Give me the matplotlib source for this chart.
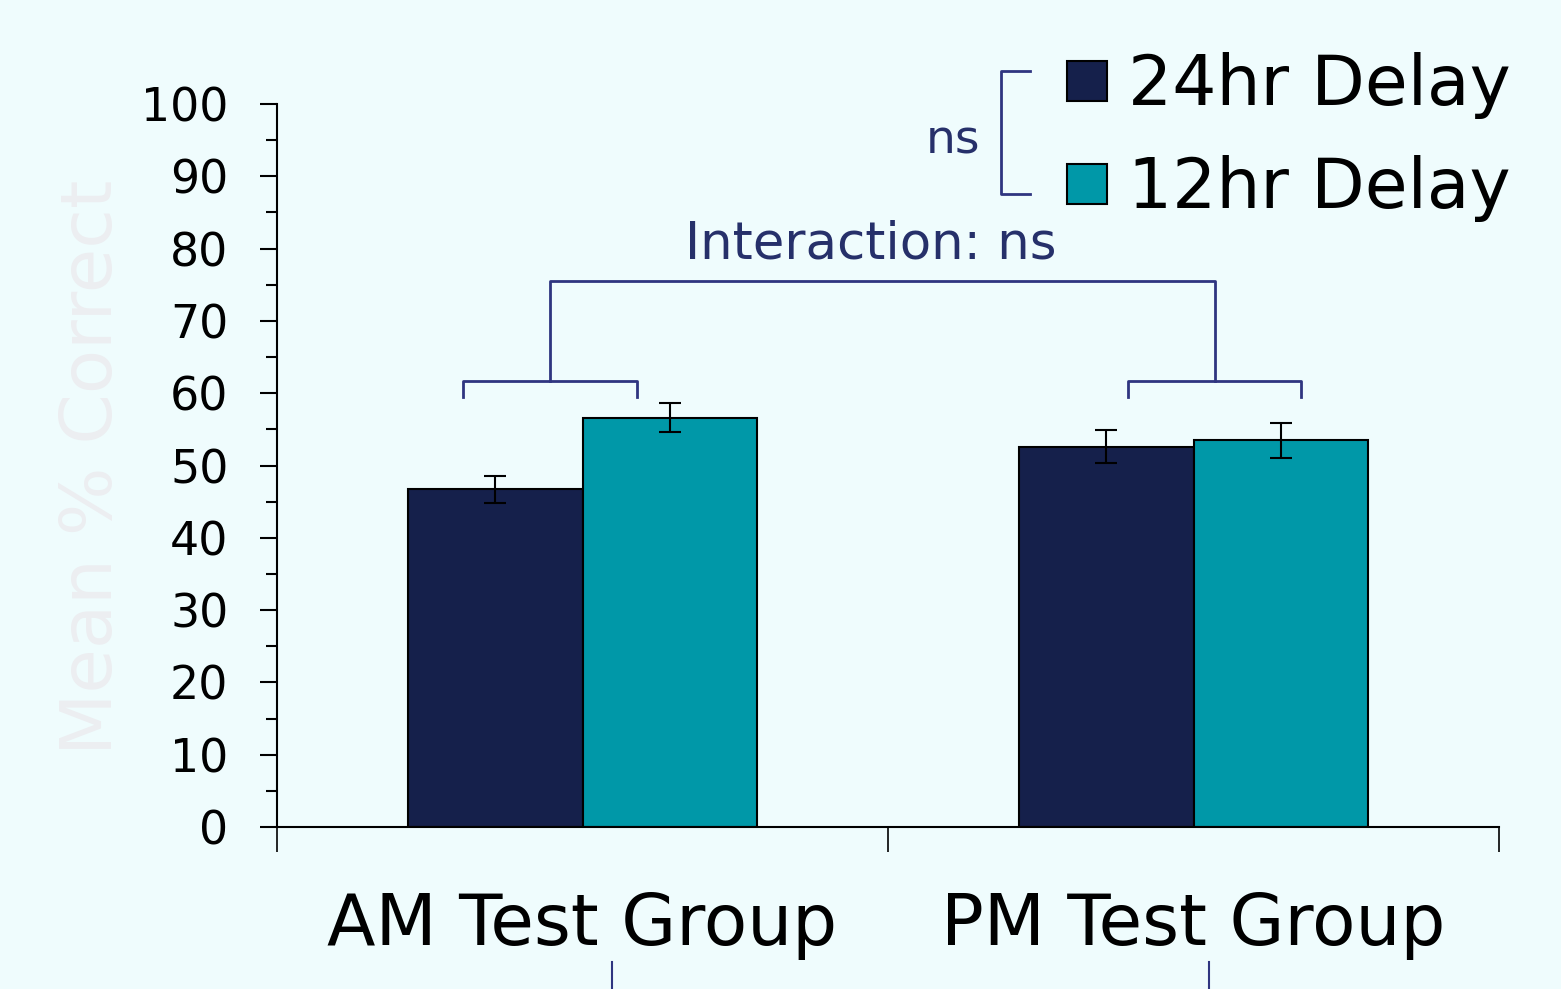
import numpy as np
import matplotlib
matplotlib.use("Agg")
import matplotlib.pyplot as plt
from matplotlib.patches import Rectangle

# Данные
groups = ['AM Test Group', 'PM Test Group']
series = ['24hr Delay', '12hr Delay']
delay_24 = [46.7, 52.6]
delay_12 = [56.6, 53.5]
err_24 = [1.9, 2.3]
err_12 = [2.0, 2.4]

bg = '#effcfd'
navy = '#15204b'
teal = '#0098a8'
ann = '#2f3580'

W, H = 1561, 989
fig = plt.figure(figsize=(W / 100, H / 100), dpi=100)
fig.patch.set_facecolor(bg)
ax = fig.add_axes([277 / W, 162 / H, 1222 / W, 723 / H])
ax.set_facecolor(bg)

x = np.arange(len(groups))
width = 0.285

# Столбцы и погрешности
ax.bar(x - width / 2, delay_24, width, color=navy, edgecolor='black', linewidth=1.5, zorder=2)
ax.bar(x + width / 2, delay_12, width, color=teal, edgecolor='black', linewidth=1.5, zorder=2)
ax.errorbar(x - width / 2, delay_24, yerr=err_24, fmt='none', ecolor='black',
            elinewidth=1.5, capsize=8, capthick=1.5, zorder=3)
ax.errorbar(x + width / 2, delay_12, yerr=err_12, fmt='none', ecolor='black',
            elinewidth=1.5, capsize=8, capthick=1.5, zorder=3)

# Оси
ax.set_xlim(-0.5, 1.5)
ax.set_ylim(0, 100)
for s in ['top', 'right']:
    ax.spines[s].set_visible(False)
for s in ['left', 'bottom']:
    ax.spines[s].set_linewidth(1.5)
    ax.spines[s].set_color('black')

ax.set_yticks(np.arange(0, 101, 10))
ax.set_yticks(np.arange(5, 100, 10), minor=True)
ax.tick_params(axis='y', which='major', length=12, width=1.5, pad=23, labelsize=33, direction='out')
ax.tick_params(axis='y', which='minor', length=8, width=1.5, direction='out')

ax.set_xticks([-0.5, 0.5, 1.5])
ax.set_xticklabels([])
ax.set_xticks(x, minor=True)
ax.set_xticklabels(groups, minor=True)
ax.tick_params(axis='x', which='major', length=18, width=1.2, direction='out')
ax.tick_params(axis='x', which='minor', length=0, pad=46, labelsize=51)

fig.text(93 / W, 1 - 467 / H, 'Mean % Correct', rotation=90, ha='center', va='center',
         fontsize=52, color='#eceef1')

# Скобки сравнения
lw = 2
ax.plot([-0.196, -0.196, 0.089, 0.089], [59.5, 61.7, 61.7, 59.5], color=ann, lw=lw, clip_on=False)
ax.plot([0.893, 0.893, 1.176, 1.176], [59.5, 61.7, 61.7, 59.5], color=ann, lw=lw, clip_on=False)
ax.plot([-0.053, -0.053, 1.035, 1.035], [61.7, 75.5, 75.5, 61.7], color=ann, lw=lw, clip_on=False)
ax.text(0.472, 78.6, 'Interaction: ns', ha='center', va='baseline', fontsize=37, color='#26306a')

ax.plot([0.733, 0.685, 0.685, 0.733], [104.6, 104.6, 87.6, 87.6], color=ann, lw=lw, clip_on=False)
ax.text(0.651, 93.2, 'ns', ha='right', va='baseline', fontsize=34, color='#26306a')

# Легенда
for label, color, top, base in [(series[0], navy, 61, 105), (series[1], teal, 164, 208)]:
    fig.patches.append(Rectangle((1067 / W, 1 - (top + 40) / H), 40 / W, 40 / H,
                                 transform=fig.transFigure, facecolor=color,
                                 edgecolor='black', linewidth=1.5))
    fig.text(1128 / W, 1 - base / H, label, ha='left', va='baseline', fontsize=50, color='black')

# Линии внизу
for xp in [612, 1209]:
    fig.add_artist(plt.Line2D([xp / W, xp / W], [0, 27 / H], transform=fig.transFigure,
                              color=ann, lw=1.5))

fig.savefig('out.png', dpi=100, facecolor=bg)
